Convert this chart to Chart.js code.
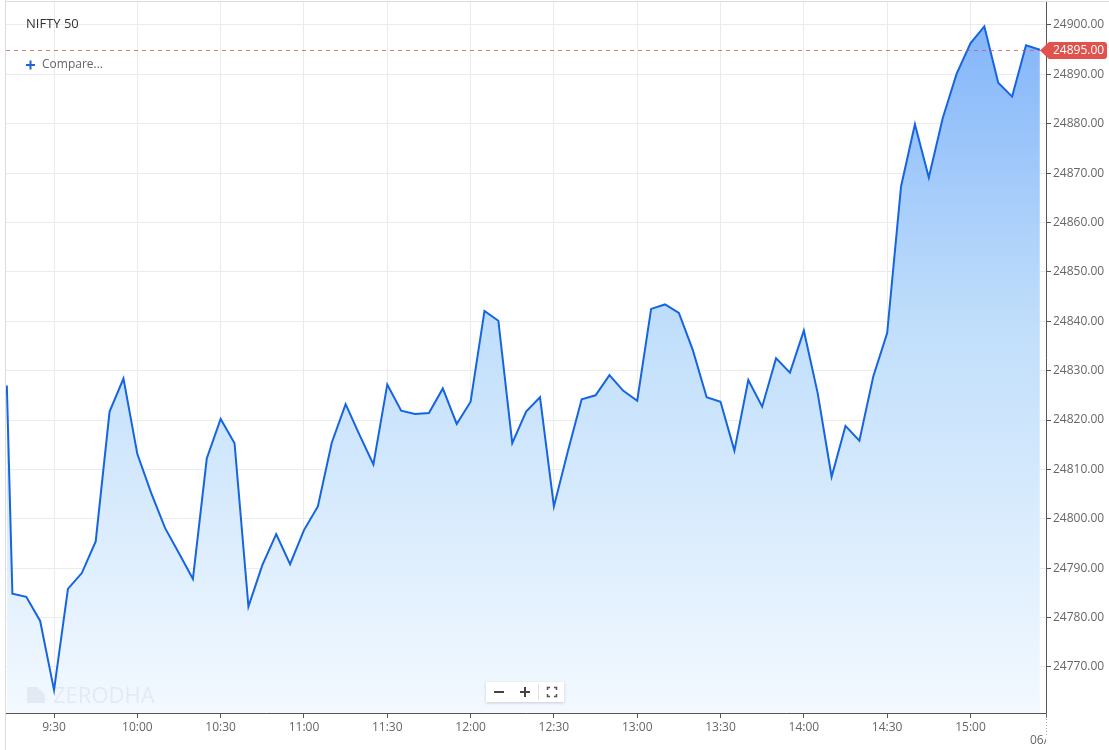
<!DOCTYPE html>
<html>
<head>
<meta charset="utf-8">
<script src="https://cdn.jsdelivr.net/npm/chart.js@4.4.1/dist/chart.umd.min.js"></script>
<style>
  html, body { margin: 0; padding: 0; background: #ffffff; }
  #wrap { position: relative; width: 1109px; height: 750px; }
  canvas { display: block; }
</style>
</head>
<body>
<div id="wrap"><canvas id="c" width="1109" height="750"></canvas></div>
<script>
// ---- data ----
const title = "NIFTY 50";
const times = [
  "09:13","09:15","09:20","09:25","09:30","09:35","09:40","09:45","09:50","09:55",
  "10:00","10:05","10:10","10:15","10:20","10:25","10:30","10:35","10:40","10:45",
  "10:50","10:55","11:00","11:05","11:10","11:15","11:20","11:25","11:30","11:35",
  "11:40","11:45","11:50","11:55","12:00","12:05","12:10","12:15","12:20","12:25",
  "12:30","12:35","12:40","12:45","12:50","12:55","13:00","13:05","13:10","13:15",
  "13:20","13:25","13:30","13:35","13:40","13:45","13:50","13:55","14:00","14:05",
  "14:10","14:15","14:20","14:25","14:30","14:35","14:40","14:45","14:50","14:55",
  "15:00","15:05","15:10","15:15","15:20","15:25"
];
const prices = [
  24827.0,24784.8,24784.2,24779.3,24765.3,24785.8,24789.0,24795.4,24821.7,24828.4,
  24813.1,24805.2,24798.1,24793.0,24787.8,24812.2,24820.2,24815.3,24782.2,24790.6,
  24796.9,24790.8,24797.7,24802.5,24815.4,24823.2,24817.0,24811.0,24827.2,24821.9,
  24821.2,24821.4,24826.4,24819.2,24823.7,24842.1,24840.1,24815.3,24821.7,24824.6,
  24802.5,24813.6,24824.2,24825.0,24829.1,24825.9,24823.9,24842.5,24843.4,24841.7,
  24834.2,24824.6,24823.7,24813.8,24828.1,24822.7,24832.5,24829.6,24838.1,24825.4,
  24808.5,24818.8,24815.8,24828.8,24837.6,24867.3,24879.9,24869.1,24881.1,24890.1,
  24896.3,24899.7,24888.3,24885.5,24895.9,24895.0
];
const lastPrice = 24895.00;
const xTickLabels = ["9:30","10:00","10:30","11:00","11:30","12:00","12:30","13:00","13:30","14:00","14:30","15:00"];
const yTickValues = [24770,24780,24790,24800,24810,24820,24830,24840,24850,24860,24870,24880,24890,24900];
const xRange = ["09:12.7","15:27.2"];
const yRange = [24760.66, 24904.86];

// ---- helpers ----
function toMin(s) {
  const p = s.split(":");
  return parseInt(p[0], 10) * 60 + parseFloat(p[1]);
}
function fmtMin(m) {
  const h = Math.floor(m / 60), mm = Math.round(m - h * 60);
  return h + ":" + (mm < 10 ? "0" : "") + mm;
}
const points = times.map((t, i) => ({ x: toMin(t), y: prices[i] }));

const FONT = "'Open Sans', 'Noto Sans', sans-serif";

const decorPlugin = {
  id: 'decor',
  beforeDraw(chart) {
    const ctx = chart.ctx;
    ctx.save();
    ctx.fillStyle = '#ffffff';
    ctx.fillRect(0, 0, chart.width, chart.height);
    ctx.restore();
  },
  afterDatasetsDraw(chart) {
    const ctx = chart.ctx;
    const ca = chart.chartArea;
    const ys = chart.scales.y;
    ctx.save();
    // outer light borders
    ctx.strokeStyle = '#dcdcdc';
    ctx.lineWidth = 1;
    ctx.beginPath();
    ctx.moveTo(5.5, 0); ctx.lineTo(5.5, chart.height);
    ctx.moveTo(5, 1.5); ctx.lineTo(chart.width, 1.5);
    ctx.stroke();

    // watermark
    ctx.fillStyle = 'rgba(40,60,90,0.07)';
    ctx.beginPath();
    ctx.moveTo(27, 687); ctx.lineTo(37, 687); ctx.lineTo(45, 695); ctx.lineTo(45, 703); ctx.lineTo(27, 703);
    ctx.closePath(); ctx.fill();
    ctx.font = "400 22px " + FONT;
    ctx.textBaseline = 'alphabetic';
    ctx.textAlign = 'left';
    ctx.fillText("ZERODHA", 53, 703);

    // dashed last-price line
    const yp = Math.round(ys.getPixelForValue(lastPrice)) + 0.5;
    ctx.strokeStyle = 'rgba(205,85,80,0.75)';
    ctx.lineWidth = 1;
    ctx.setLineDash([4, 4]);
    ctx.beginPath();
    ctx.moveTo(ca.left, yp); ctx.lineTo(ca.right, yp);
    ctx.stroke();
    ctx.setLineDash([]);

    // price tag
    ctx.fillStyle = '#e0524b';
    ctx.beginPath();
    const tl = 1049, tr = 1107, tt = yp - 8.5, tb = yp + 8.5, r = 3;
    ctx.moveTo(1040, yp);
    ctx.lineTo(tl, tt);
    ctx.lineTo(tr - r, tt);
    ctx.quadraticCurveTo(tr, tt, tr, tt + r);
    ctx.lineTo(tr, tb - r);
    ctx.quadraticCurveTo(tr, tb, tr - r, tb);
    ctx.lineTo(tl, tb);
    ctx.closePath();
    ctx.fill();
    ctx.fillStyle = '#ffffff';
    ctx.font = "12px " + FONT;
    ctx.textAlign = 'left';
    ctx.textBaseline = 'middle';
    ctx.fillText(lastPrice.toFixed(2), 1053, yp);

    // title + compare
    ctx.fillStyle = '#333333';
    ctx.font = "13px " + FONT;
    ctx.textBaseline = 'middle';
    ctx.fillText(title, 26, 24);
    ctx.strokeStyle = '#1f63d6';
    ctx.lineWidth = 2;
    ctx.beginPath();
    ctx.moveTo(26, 65); ctx.lineTo(35, 65);
    ctx.moveTo(30.5, 60.5); ctx.lineTo(30.5, 69.5);
    ctx.stroke();
    ctx.fillStyle = '#666666';
    ctx.font = "12px " + FONT;
    ctx.fillText("Compare...", 42, 65);

    // zoom controls
    ctx.save();
    ctx.shadowColor = 'rgba(0,0,0,0.18)';
    ctx.shadowBlur = 3;
    ctx.shadowOffsetY = 1;
    ctx.fillStyle = '#ffffff';
    ctx.fillRect(486, 682, 78, 20);
    ctx.restore();
    ctx.strokeStyle = '#444';
    ctx.lineWidth = 2;
    ctx.beginPath();
    ctx.moveTo(494, 692); ctx.lineTo(504, 692);
    ctx.moveTo(520, 692); ctx.lineTo(530, 692);
    ctx.moveTo(525, 687); ctx.lineTo(525, 697);
    ctx.stroke();
    ctx.strokeStyle = '#e2e2e2';
    ctx.lineWidth = 1;
    ctx.beginPath();
    ctx.moveTo(538.5, 684); ctx.lineTo(538.5, 700);
    ctx.stroke();
    ctx.strokeStyle = '#555';
    ctx.lineWidth = 1.5;
    ctx.beginPath();
    ctx.moveTo(547.5, 690); ctx.lineTo(547.5, 687.5); ctx.lineTo(550, 687.5);
    ctx.moveTo(554, 687.5); ctx.lineTo(556.5, 687.5); ctx.lineTo(556.5, 690);
    ctx.moveTo(547.5, 694); ctx.lineTo(547.5, 696.5); ctx.lineTo(550, 696.5);
    ctx.moveTo(554, 696.5); ctx.lineTo(556.5, 696.5); ctx.lineTo(556.5, 694);
    ctx.stroke();

    // end tick dotted + clipped date label
    ctx.strokeStyle = '#777';
    ctx.lineWidth = 1;
    ctx.beginPath();
    ctx.moveTo(ca.right + 0.5, ca.bottom); ctx.lineTo(ca.right + 0.5, ca.bottom + 5);
    ctx.stroke();
    ctx.setLineDash([1, 2]);
    ctx.strokeStyle = '#aaa';
    ctx.beginPath();
    ctx.moveTo(ca.right + 0.5, ca.bottom + 6); ctx.lineTo(ca.right + 0.5, ca.bottom + 22);
    ctx.stroke();
    ctx.setLineDash([]);
    ctx.save();
    ctx.beginPath();
    ctx.rect(0, ca.bottom + 1, ca.right, 40);
    ctx.clip();
    ctx.fillStyle = '#666666';
    ctx.font = "12px " + FONT;
    ctx.textAlign = 'left';
    ctx.textBaseline = 'middle';
    ctx.fillText("06/06", 1030, 741);
    ctx.restore();

    ctx.restore();
  }
};

const ctx = document.getElementById('c').getContext('2d');
new Chart(ctx, {
  type: 'line',
  data: {
    datasets: [{
      data: points,
      borderColor: '#1565e0',
      borderWidth: 2,
      pointRadius: 0,
      tension: 0,
      fill: 'start',
      backgroundColor: function(context) {
        const ch = context.chart;
        const ca = ch.chartArea;
        if (!ca) return 'rgba(140,185,250,0.5)';
        const g = ch.ctx.createLinearGradient(0, ca.top, 0, ca.bottom);
        g.addColorStop(0, 'rgba(126,178,250,1)');
        g.addColorStop(0.45, 'rgba(192,222,251,1)');
        g.addColorStop(1, 'rgba(243,249,255,1)');
        return g;
      }
    }]
  },
  options: {
    responsive: false,
    animation: false,
    events: [],
    layout: { padding: { left: 6, top: 1, right: 0, bottom: 0 } },
    plugins: { legend: { display: false }, tooltip: { enabled: false } },
    scales: {
      x: {
        type: 'linear',
        min: toMin(xRange[0]),
        max: toMin(xRange[1]),
        afterBuildTicks(axis) {
          axis.ticks = xTickLabels.map(l => ({ value: toMin(l) }));
        },
        afterFit(axis) { axis.height = 37; axis.paddingLeft = 0; axis.paddingRight = 0; },
        grid: { color: '#ebebeb', lineWidth: 1, tickLength: 5, tickColor: '#555', drawTicks: true },
        border: { display: true, color: '#555', width: 1 },
        ticks: {
          padding: 2,
          maxRotation: 0,
          autoSkip: false,
          color: '#666',
          font: { family: FONT, size: 12 },
          callback: (v) => fmtMin(v)
        }
      },
      y: {
        position: 'right',
        min: yRange[0],
        max: yRange[1],
        afterBuildTicks(axis) {
          axis.ticks = yTickValues.map(v => ({ value: v }));
        },
        afterFit(axis) { axis.width = 63; axis.paddingTop = 0; axis.paddingBottom = 0; },
        grid: { color: '#ebebeb', lineWidth: 1, tickLength: 5, tickColor: '#555', drawTicks: true },
        border: { display: true, color: '#555', width: 1 },
        ticks: {
          padding: 2,
          color: '#666',
          font: { family: FONT, size: 12 },
          callback: (v) => Number(v).toFixed(2)
        }
      }
    }
  },
  plugins: [decorPlugin]
});
</script>
</body>
</html>
